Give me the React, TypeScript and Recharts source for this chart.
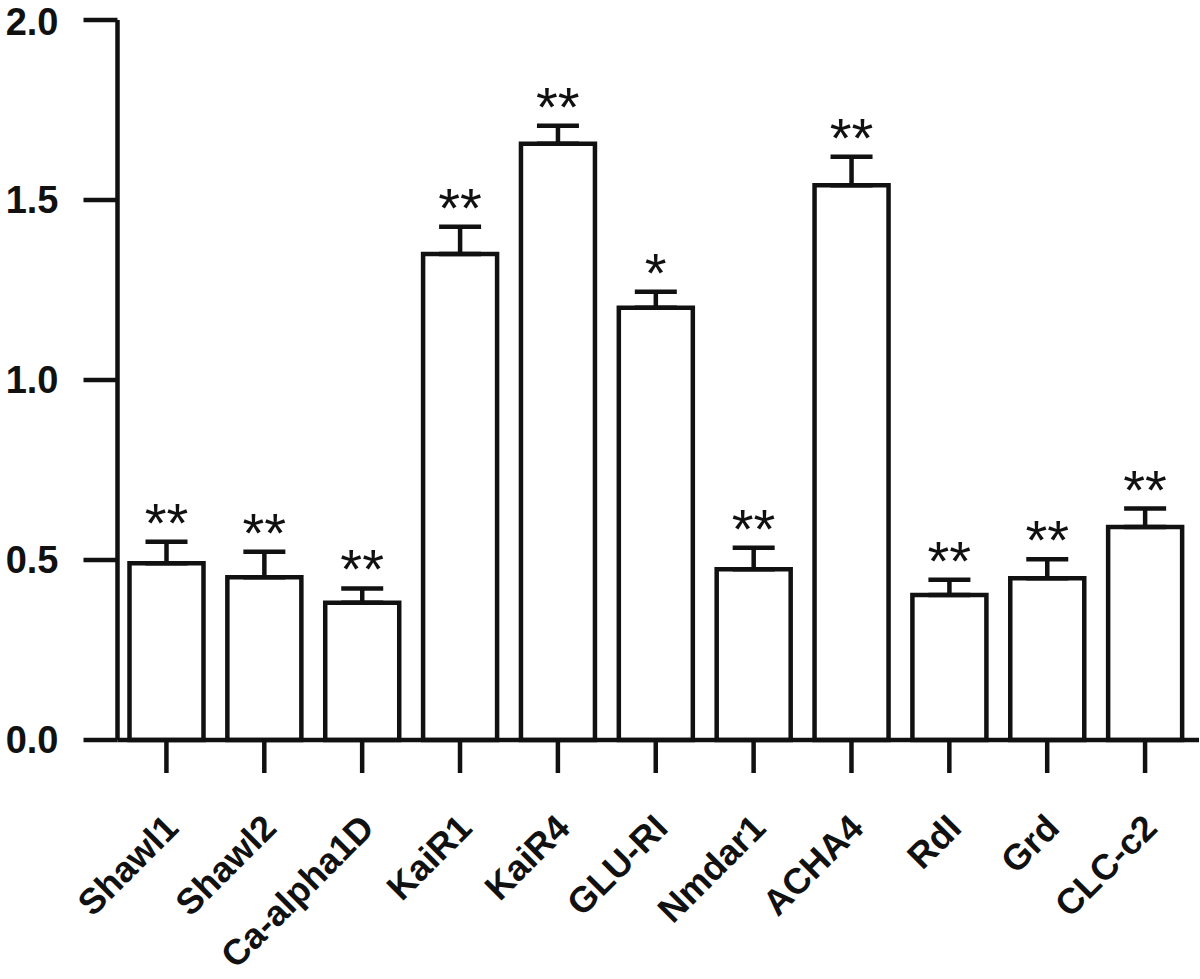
import { ComposedChart, Bar, Line, XAxis, YAxis, ErrorBar, LabelList } from 'recharts';

const genes = ['Shawl1', 'Shawl2', 'Ca-alpha1D', 'KaiR1', 'KaiR4', 'GLU-RI', 'Nmdar1', 'ACHA4', 'RdI', 'Grd', 'CLC-c2'];
const means = [0.491, 0.452, 0.381, 1.35, 1.656, 1.201, 0.474, 1.541, 0.403, 0.449, 0.592];
const sems = [0.06, 0.071, 0.04, 0.076, 0.05, 0.044, 0.06, 0.079, 0.042, 0.053, 0.051];
const stars = ['**', '**', '**', '**', '**', '*', '**', '**', '**', '**', '**'];
const yTicks = [0, 0.5, 1.0, 1.5, 2.0];

const data = genes.map((g, i) => ({
  name: g,
  mean: means[i],
  err: [0, sems[i]],
  top: means[i] + sems[i],
}));

const INK = '#111';
const FONT = '"Liberation Sans", Arial, Helvetica, sans-serif';

function GeneTick({ x, y, payload }: any) {
  return (
    <g transform={`translate(${x + 14},${y + 55})`}>
      <text x={0} y={0} textAnchor="end" transform="rotate(-45)" fontFamily={FONT} fontWeight="bold" fontSize={36} fill={INK}>
        {payload.value}
      </text>
    </g>
  );
}

function StarLabel({ x, y, index }: any) {
  return (
    <text x={x} y={y} textAnchor="middle" fontFamily={FONT} fontSize={56} fill={INK}>
      {stars[index]}
    </text>
  );
}

export default function App() {
  return (
    <div style={{ position: 'absolute', left: 0, top: 0, background: '#fff' }}>
      <ComposedChart width={1200} height={979} data={data} margin={{ top: 20, right: 1, bottom: 0, left: 0 }}>
        <XAxis
          dataKey="name"
          height={239}
          padding={{ left: 0, right: 5 }}
          interval={0}
          tick={<GeneTick />}
          axisLine={{ stroke: INK, strokeWidth: 4.5 }}
          tickLine={{ stroke: INK, strokeWidth: 4.5 }}
          tickSize={33}
        />
        <YAxis
          width={117.5}
          domain={[0, 2]}
          ticks={yTicks}
          tickFormatter={(v: number) => v.toFixed(1)}
          axisLine={{ stroke: INK, strokeWidth: 4.5 }}
          tickLine={{ stroke: INK, strokeWidth: 4.5 }}
          tickSize={34}
          tickMargin={25}
          tick={{ fontFamily: FONT, fontWeight: 'bold', fontSize: 38, fill: INK }}
        />
        <Bar dataKey="mean" fill="#fff" stroke={INK} strokeWidth={4.5} barSize={74} isAnimationActive={false}>
          <ErrorBar dataKey="err" width={21} stroke={INK} strokeWidth={4.5} direction="y" />
        </Bar>
        <Line dataKey="top" stroke="none" dot={false} activeDot={false} isAnimationActive={false}>
          <LabelList dataKey="top" content={<StarLabel />} />
        </Line>
      </ComposedChart>
    </div>
  );
}
